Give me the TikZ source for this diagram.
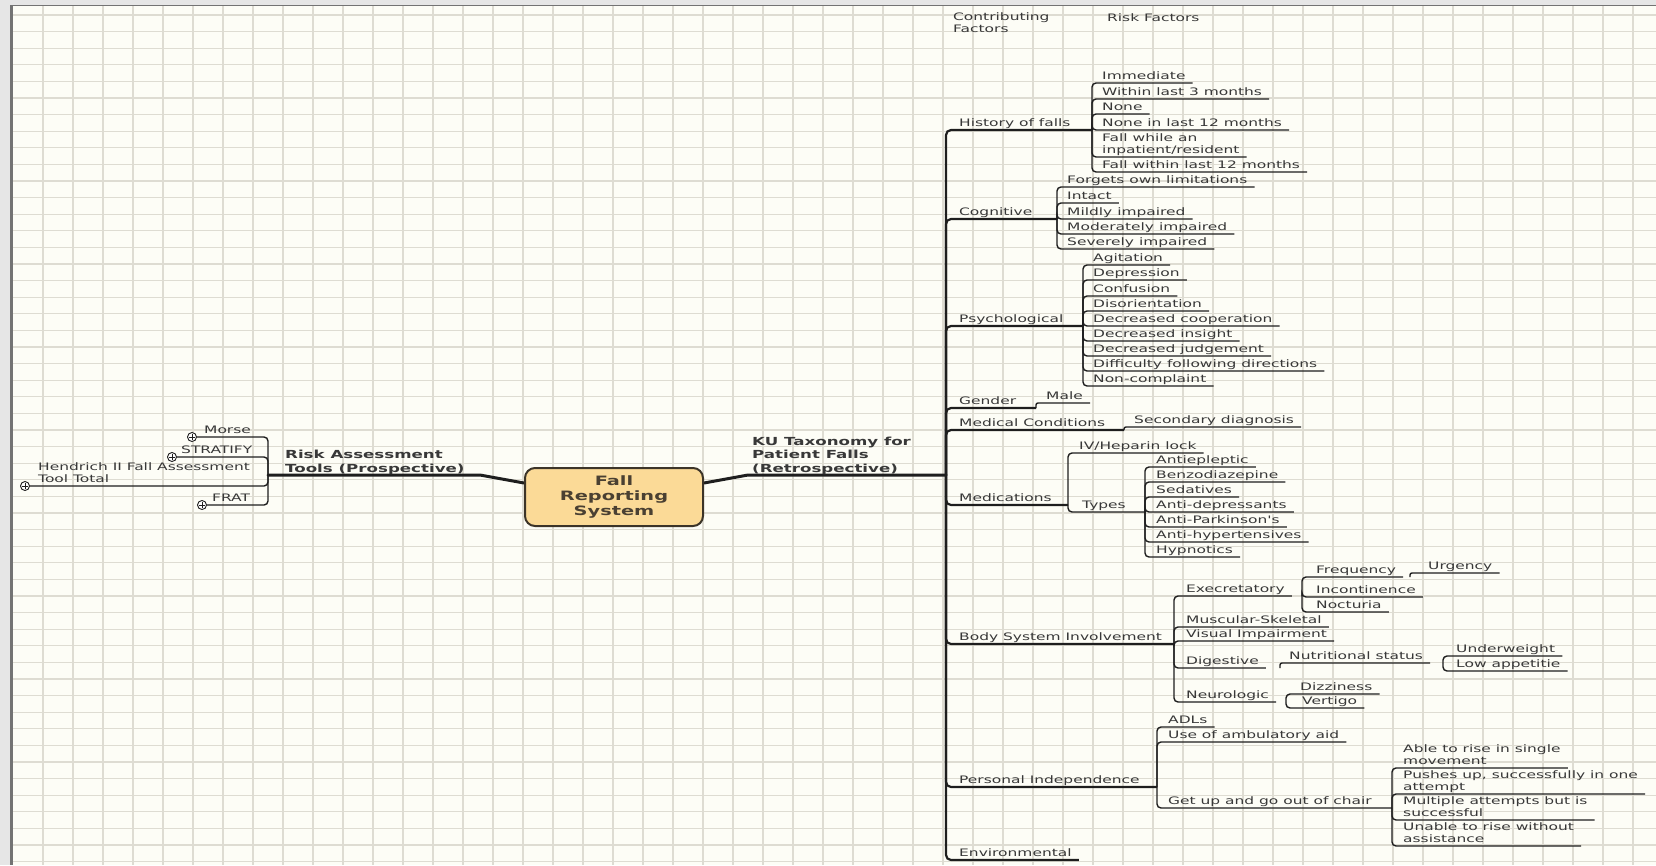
\documentclass[tikz,border=0pt]{standalone}
\usepackage{fontspec}
\newfontfamily\mapfont[FakeStretch=1.5]{DejaVu Sans}

\definecolor{outerbg}{HTML}{E6E6E6}
\definecolor{paperbg}{HTML}{FDFDF6}
\definecolor{gridc}{HTML}{DEDCD2}
\definecolor{frame}{HTML}{737373}
\definecolor{ink}{HTML}{1E1E1E}
\definecolor{txt}{HTML}{383838}
\definecolor{hubfill}{HTML}{FBDA97}
\definecolor{hubedge}{HTML}{3C3428}
\definecolor{hubtxt}{HTML}{4A4032}

\pgfdeclarelayer{paper}
\pgfdeclarelayer{links}
\pgfsetlayers{paper,links,main}

\tikzset{
  leaf/.style={anchor=south west, inner xsep=0pt, inner ysep=0.8pt, text depth=3pt,
    align=left, text=txt, font=\mapfont\fontsize{10.3}{12}\selectfont},
  branchtitle/.style={leaf, inner ysep=0.5pt, text depth=2pt,
    font=\mapfont\bfseries\fontsize{11.1}{13.5}\selectfont},
  hub/.style={rectangle, rounded corners=10pt, draw=hubedge, line width=2pt,
    fill=hubfill, minimum width=178pt, minimum height=58pt, align=center,
    text=hubtxt, font=\mapfont\bfseries\fontsize{12.9}{15}\selectfont},
  expander/.style={circle, draw=ink, fill=white, line width=0.9pt, minimum size=9pt,
    inner sep=0pt, path picture={
      \draw[ink, line width=0.9pt]
        ([xshift=-3pt]path picture bounding box.center) -- ([xshift=3pt]path picture bounding box.center)
        ([yshift=-3pt]path picture bounding box.center) -- ([yshift=3pt]path picture bounding box.center);}},
  mainlink/.style={draw=ink, line width=3pt, line cap=round, line join=round},
  limb/.style={draw=ink, line width=2.2pt, rounded corners=5pt},
  twig/.style={draw=ink, line width=1.4pt, rounded corners=4pt},
  jog/.style={draw=ink, line width=1.4pt, rounded corners=2pt},
  gridline/.style={draw=gridc, line width=1.2pt},
}

\begin{document}
\begin{tikzpicture}[x=1pt, y=-1pt]
\useasboundingbox (0,0) rectangle (1656,865);

% squared paper with its frame
\begin{pgfonlayer}{paper}
  \fill[outerbg] (0,0) rectangle (1656,865);
  \fill[paperbg] (12,6) rectangle (1656,865);
  \foreach \i in {0,...,53} \draw[gridline] ({43+30*\i},6) -- ({43+30*\i},865);
  \foreach \i in {0,...,51} \draw[gridline] (12,{15+16.6*\i}) -- (1656,{15+16.6*\i});
  \draw[frame, line width=1.5pt] (11,5.5) -- (1656,5.5);
  \draw[frame, line width=2.2pt] (11.5,5) -- (11.5,865);
\end{pgfonlayer}

% column headings
\node[leaf] (hdrA) at (953,36) {Contributing\\Factors};
\node[leaf] (hdrB) at (1107,25) {Risk Factors};

% central topic
\node[hub] (hub) at (614,497) {Fall\\Reporting\\System};

% prospective tools (left)
\node[branchtitle] (risk) at (285,475) {Risk Assessment\\Tools (Prospective)};
\coordinate (riskEnd) at (480,475);
\coordinate (riskJ) at (268,475);
\node[expander] (morseC) at (192,437) {};
\node[expander] (stratC) at (172,457) {};
\node[expander] (hendC) at (25,486) {};
\node[expander] (fratC) at (202,505) {};
\node[leaf] (morse) at (204,437) {Morse};
\node[leaf] (strat) at (181,457) {STRATIFY};
\node[leaf] (hend) at (38,486) {Hendrich II Fall Assessment\\Tool Total};
\node[leaf] (frat) at (212,505) {FRAT};

% retrospective taxonomy (right)
\node[branchtitle] (ku) at (752,475) {KU Taxonomy for\\Patient Falls\\(Retrospective)};
\coordinate (kuStart) at (748,475);
\coordinate (trunkJ) at (946,475);

% contributing factors
\node[leaf] (hist) at (959,130) {History of falls};
\node[leaf] (cog) at (959,219) {Cognitive};
\node[leaf] (psy) at (959,326) {Psychological};
\node[leaf] (gen) at (959,408) {Gender};
\node[leaf] (med) at (959,430) {Medical Conditions};
\node[leaf] (meds) at (959,505) {Medications};
\node[leaf] (body) at (959,644) {Body System Involvement};
\node[leaf] (pers) at (959,787) {Personal Independence};
\node[leaf] (env) at (959,860) {Environmental};
\coordinate (histJ) at (1092,130);
\coordinate (cogJ) at (1057,219);
\coordinate (psyJ) at (1083,326);
\coordinate (genJ) at (1036,408);
\coordinate (medJ) at (1124,430);
\coordinate (medsJ) at (1068,505);
\coordinate (bodyJ) at (1174,644);
\coordinate (persJ) at (1157,787);

% history of falls
\node[leaf] (h1) at (1102,83) {Immediate};
\node[leaf] (h2) at (1102,99) {Within last 3 months};
\node[leaf] (h3) at (1102,114) {None};
\node[leaf] (h4) at (1102,130) {None in last 12 months};
\node[leaf] (h5) at (1102,157) {Fall while an\\inpatient/resident};
\node[leaf] (h6) at (1102,172) {Fall within last 12 months};

% cognitive
\node[leaf] (c1) at (1067,187) {Forgets own limitations};
\node[leaf] (c2) at (1067,203) {Intact};
\node[leaf] (c3) at (1067,219) {Mildly impaired};
\node[leaf] (c4) at (1067,234) {Moderately impaired};
\node[leaf] (c5) at (1067,249) {Severely impaired};

% psychological
\node[leaf] (p1) at (1093,265) {Agitation};
\node[leaf] (p2) at (1093,280) {Depression};
\node[leaf] (p3) at (1093,296) {Confusion};
\node[leaf] (p4) at (1093,311) {Disorientation};
\node[leaf] (p5) at (1093,326) {Decreased cooperation};
\node[leaf] (p6) at (1093,341) {Decreased insight};
\node[leaf] (p7) at (1093,356) {Decreased judgement};
\node[leaf] (p8) at (1093,371) {Difficulty following directions};
\node[leaf] (p9) at (1093,386) {Non-complaint};

% gender, medical conditions
\node[leaf] (male) at (1046,403) {Male};
\node[leaf] (sec) at (1134,427) {Secondary diagnosis};

% medications
\node[leaf] (iv) at (1079,453) {IV/Heparin lock};
\node[leaf] (types) at (1082,512) {Types};
\coordinate (typesJ) at (1145,512);
\node[leaf] (t1) at (1156,467) {Antiepleptic};
\node[leaf] (t2) at (1156,482) {Benzodiazepine};
\node[leaf] (t3) at (1156,497) {Sedatives};
\node[leaf] (t4) at (1156,512) {Anti-depressants};
\node[leaf] (t5) at (1156,527) {Anti-Parkinson's};
\node[leaf] (t6) at (1156,542) {Anti-hypertensives};
\node[leaf] (t7) at (1156,557) {Hypnotics};

% body system involvement
\node[leaf] (exc) at (1186,596) {Execretatory};
\node[leaf] (mus) at (1186,627) {Muscular-Skeletal};
\node[leaf] (vis) at (1186,641) {Visual Impairment};
\node[leaf] (dig) at (1186,668) {Digestive};
\node[leaf] (neu) at (1186,702) {Neurologic};
\coordinate (excJ) at (1302,596);
\coordinate (digJ) at (1280,668);
\coordinate (neuJ) at (1286,702);
\node[leaf] (freq) at (1316,577) {Frequency};
\node[leaf] (inc) at (1316,597) {Incontinence};
\node[leaf] (noc) at (1316,612) {Nocturia};
\coordinate (freqJ) at (1410,577);
\node[leaf] (urg) at (1428,573) {Urgency};
\node[leaf] (nut) at (1289,663) {Nutritional status};
\coordinate (nutJ) at (1443,663);
\node[leaf] (uw) at (1456,656) {Underweight};
\node[leaf] (la) at (1456,671) {Low appetitie};
\node[leaf] (diz) at (1300,694) {Dizziness};
\node[leaf] (ver) at (1302,708) {Vertigo};

% personal independence
\node[leaf] (adl) at (1168,727) {ADLs};
\node[leaf] (amb) at (1168,742) {Use of ambulatory aid};
\node[leaf] (gup) at (1168,808) {Get up and go out of chair};
\coordinate (gupJ) at (1392,808);
\node[leaf] (ab) at (1403,768) {Able to rise in single\\movement};
\node[leaf] (pu) at (1403,794) {Pushes up, successfully in one\\attempt};
\node[leaf] (mu) at (1403,820) {Multiple attempts but is\\successful};
\node[leaf] (un) at (1403,846) {Unable to rise without\\assistance};

% connectors
\begin{pgfonlayer}{links}
  \draw[mainlink] ([yshift=14pt]hub.west) -- (riskEnd) -- (riskJ);
  \draw[mainlink] ([yshift=14pt]hub.east) -- (kuStart) -- (trunkJ);
  \foreach \c in {morseC, stratC, hendC, fratC} \draw[twig] (riskJ) |- (\c);
  \foreach \j in {histJ, cogJ, psyJ, genJ, medJ, medsJ, bodyJ, persJ}
    \draw[limb] (trunkJ) |- (\j);
  \draw[limb] (trunkJ) |- ([xshift=7pt]env.south east);
  \foreach \j/\n in {histJ/h1, histJ/h2, histJ/h3, histJ/h4, histJ/h5, histJ/h6,
      cogJ/c1, cogJ/c2, cogJ/c3, cogJ/c4, cogJ/c5,
      psyJ/p1, psyJ/p2, psyJ/p3, psyJ/p4, psyJ/p5, psyJ/p6, psyJ/p7, psyJ/p8, psyJ/p9,
      medsJ/iv, typesJ/t1, typesJ/t2, typesJ/t3, typesJ/t4, typesJ/t5, typesJ/t6, typesJ/t7,
      bodyJ/exc, bodyJ/mus, bodyJ/vis, bodyJ/dig, bodyJ/neu,
      excJ/freq, excJ/inc, excJ/noc, nutJ/uw, nutJ/la, neuJ/diz, neuJ/ver,
      persJ/adl, persJ/amb, gupJ/ab, gupJ/pu, gupJ/mu, gupJ/un}
    \draw[twig] (\j) |- ([xshift=7pt]\n.south east);
  \draw[twig] (medsJ) |- (typesJ);
  \draw[twig] (persJ) |- (gupJ);
  \foreach \j/\n in {genJ/male, medJ/sec, freqJ/urg, digJ/nut}
    \draw[jog] (\j) |- ([xshift=7pt]\n.south east);
\end{pgfonlayer}
\end{tikzpicture}
\end{document}
